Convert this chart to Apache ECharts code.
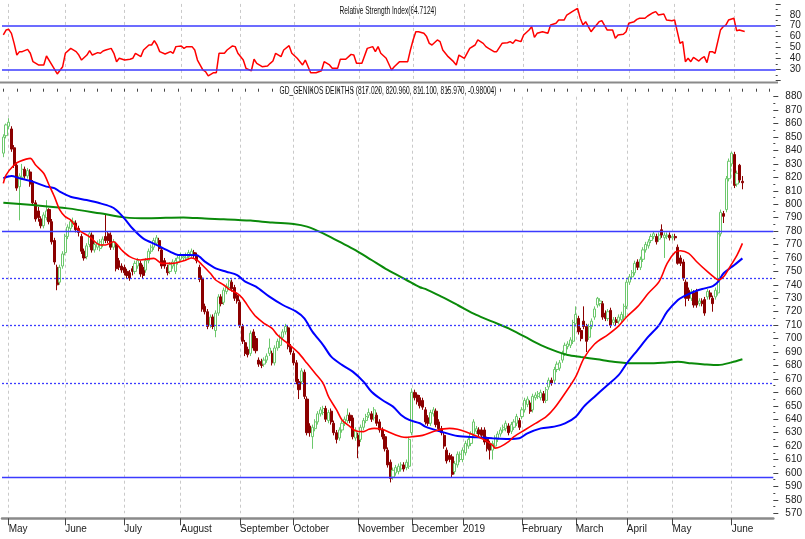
<!DOCTYPE html>
<html><head><meta charset="utf-8">
<script src="https://cdn.jsdelivr.net/npm/echarts@6/dist/echarts.min.js"></script>
<style>html,body{margin:0;padding:0;background:#fff}#c{width:805px;height:539px}</style>
</head><body><div id="c"></div>
<script>
const monthNames = ['May','June','July','August','September','October','November','December','2019','February','March','April','May','June'];
const monthStarts = [2,23,45,66,88,108,132,152,171,193,213,232,249,271];
const emptySlots = 11;
const lastBar = [817.020, 820.960, 811.100, 815.970, -0.98004];
const rsiLast = 64.7124;
const priceLevelsSolid = [780, 597];
const priceLevelsDotted = [745, 710, 667];
const rsiLevels = [70, 30];
// [open, close, low, high]
const ohlc = [
[838,850,835,852],[851,859,849,860],[858,861,856,864],[856,841,839,858],[842,829,827,844],
[829,812,810,831],[813,821,788,823],[820,826,818,830],[826,821,819,828],[821,825,819,827],
[824,815,813,826],[816,801,799,818],[801,789,787,803],[795,790,787,798],[789,784,782,791],
[784,792,782,794],[790,795,788,803],[796,787,785,797],[787,772,770,789],[773,757,755,775],
[753,740,736,755],[742,753,740,755],[754,763,752,765],[764,776,762,778],[776,783,774,785],
[782,787,780,789],[785,787,783,790],[786,781,779,788],[782,779,776,784],[776,765,763,778],
[765,760,758,767],[761,769,759,771],[770,778,768,780],[777,766,764,779],[766,770,764,772],
[768,771,766,773],[767,772,765,774],[770,774,768,776],[776,773,771,792],[778,773,771,780],
[777,768,766,779],[768,772,766,774],[770,752,750,772],[758,753,751,760],[754,751,749,756],
[753,749,747,755],[750,747,745,752],[749,745,743,751],[752,750,747,754],[750,756,748,758],
[754,758,752,760],[756,748,746,758],[753,747,745,755],[751,758,749,760],[758,765,756,767],
[765,768,763,770],[768,773,766,775],[771,775,769,777],[773,767,765,775],[766,754,752,768],
[758,754,752,760],[753,749,747,755],[750,755,748,757],[754,757,752,759],[750,758,748,760],
[757,760,755,762],[759,762,757,764],[760,761,758,763],[760,762,758,764],[761,764,759,766],
[762,765,760,767],[764,762,760,766],[762,758,756,764],[753,744,742,755],[745,722,720,747],
[724,720,718,726],[720,709,707,722],[710,716,708,718],[716,709,707,718],[706,719,701,721],
[719,731,717,733],[731,726,724,733],[727,736,725,738],[735,739,733,741],[738,743,736,745],
[742,737,735,744],[738,730,728,740],[732,728,726,734],[727,710,708,729],[709,698,696,711],
[697,689,687,699],[692,688,686,694],[689,704,687,706],[705,693,691,707],[700,691,689,702],
[684,681,679,686],[683,680,678,685],[681,684,679,686],[684,687,682,689],[689,693,687,700],
[689,682,680,691],[682,693,680,695],[693,698,691,700],[695,701,693,703],[701,705,699,707],
[705,709,703,711],[708,694,692,710],[694,690,688,696],[689,682,680,691],[682,668,666,684],
[668,662,655,670],[668,676,666,678],[675,657,655,677],[655,630,628,657],[635,630,627,637],
[627,634,618,636],[633,638,631,640],[638,644,636,646],[644,647,642,649],[645,648,643,650],
[648,640,638,650],[639,645,637,647],[646,638,636,648],[637,630,628,639],[630,625,622,632],
[626,632,624,634],[632,637,630,639],[637,640,635,642],[639,643,637,648],[643,639,637,645],
[641,627,625,643],[626,632,624,634],[628,620,611,630],[625,634,623,636],[634,639,632,641],
[639,642,637,644],[643,645,641,648],[644,640,638,646],[641,647,639,649],[643,637,635,645],
[638,632,630,640],[632,627,625,634],[627,618,616,629],[617,606,604,619],[608,596,593,610],
[597,602,595,604],[600,604,598,606],[601,605,599,607],[603,606,601,608],[606,603,601,608],
[604,608,602,610],[605,625,603,627],[630,660,628,663],[660,656,654,662],[658,653,651,660],
[656,650,648,658],[654,649,647,656],[647,638,636,649],[641,637,635,643],[637,645,635,647],
[644,647,642,649],[646,636,634,648],[638,633,631,640],[633,630,628,635],[628,620,618,630],
[617,609,607,619],[613,610,608,615],[612,599,597,614],[601,607,599,609],[606,614,604,616],
[610,614,608,616],[610,617,608,619],[615,622,613,624],[620,625,618,627],[622,629,620,631],
[629,638,627,640],[631,633,629,635],[632,629,627,634],[632,628,626,634],[632,623,621,634],
[625,618,616,627],[622,617,610,624],[617,622,610,624],[620,626,618,628],[625,629,623,631],
[629,632,627,634],[632,634,630,636],[633,637,631,639],[635,630,628,637],[631,636,629,638],
[634,638,632,640],[637,642,635,644],[639,634,632,641],[642,647,640,649],[647,654,645,656],
[651,655,649,657],[652,646,644,654],[647,657,645,659],[656,658,654,660],[657,659,655,661],
[656,660,654,662],[659,654,652,661],[654,662,652,664],[664,669,662,671],[669,667,665,671],
[669,677,667,679],[677,681,675,683],[678,682,676,684],[684,689,682,691],[689,695,687,697],
[694,696,692,698],[695,699,693,701],[698,712,696,714],[711,718,709,724],[715,705,703,717],
[706,700,698,708],[713,709,707,724],[709,698,690,711],[701,709,699,711],[709,713,707,715],
[716,722,714,724],[725,730,723,731],[726,728,724,730],[726,716,714,728],[719,715,713,721],
[715,720,713,722],[721,710,708,723],[712,714,710,716],[714,712,710,716],[713,716,711,718],
[714,718,712,720],[716,724,714,726],[724,742,722,744],[742,746,740,748],[746,749,744,751],
[749,756,747,758],[757,753,751,759],[753,759,751,761],[759,766,757,768],[766,770,764,772],
[769,772,767,774],[773,776,771,778],[776,778,774,780],[776,772,770,778],[774,777,772,779],
[781,777,775,785],[775,777,760,779],[776,777,774,779],[777,775,773,779],[775,776,773,778],
[776,775,773,778],[768,756,755,770],[760,756,754,762],[757,745,743,759],[742,730,724,744],
[736,730,728,738],[730,735,728,737],[734,725,723,736],[735,725,723,737],[726,728,724,730],
[728,726,724,730],[729,719,717,731],[731,735,729,737],[734,731,729,736],[730,726,720,732],
[731,736,729,738],[734,778,732,780],[778,794,776,796],[793,791,786,795],[796,819,794,821],
[819,832,817,834],[830,838,828,839],[837,814,812,839],[815,823,813,825],[829,818,816,830],
[817.02,815.97,811.1,820.96]
];
const rsi = [[0,61.5],[1,66],[2,66.7],[3,63],[4,53.8],[5,43.1],[6,46.2],[7,46.2],[9,48.3],[10,44.7],[11,37],[13,34],[15,34],[16,42.2],[18,34],[20,25.7],[22,32.4],[23,44.7],[25,49.2],[27,46.2],[28,43.1],[29,38.5],[31,43.1],[32,47.1],[33,43.1],[35,45.3],[36,44.7],[37,46.8],[38,47.7],[40,49.2],[41,44.7],[42,37],[43,40.1],[45,38.5],[47,39.2],[48,40.1],[49,44.7],[51,41.6],[52,47.7],[54,52.3],[55,52.3],[56,56.3],[57,52.3],[58,46.2],[60,44],[62,46.2],[63,44.7],[64,50.8],[66,51.4],[67,49.2],[68,50.8],[70,50.8],[71,47.7],[72,38.5],[74,29.4],[75,27.8],[76,23.9],[78,26.9],[79,26.9],[80,44.7],[82,44.7],[83,47.7],[85,51.4],[86,50.8],[87,44.7],[89,38.5],[90,30.9],[92,28.7],[93,39.2],[94,35.5],[96,32.4],[98,33],[99,35.5],[100,37.6],[101,44.7],[103,41.6],[104,47.7],[106,51.7],[107,44.7],[109,40.1],[111,34],[112,38.5],[114,26.9],[116,26.9],[118,28.7],[119,37],[121,34],[122,30.9],[124,30.9],[125,39.2],[127,39.2],[129,43.7],[130,43.1],[131,35.5],[133,35.5],[135,49.2],[137,50.8],[138,46.2],[139,50.8],[140,44.7],[142,40.1],[144,29.4],[145,32.4],[147,37],[150,37],[151,47.7],[152,56.9],[153,64.5],[154,64.5],[156,63],[157,60],[158,53.8],[159,52.3],[161,56.9],[162,55.4],[163,47.7],[165,41.6],[167,37],[168,34],[169,43.1],[171,40.1],[172,44.7],[173,49.2],[175,52.3],[176,56.9],[178,53.8],[179,50.8],[180,49.2],[182,46.2],[183,46.2],[185,53.8],[187,54.4],[188,55.4],[189,53.8],[190,56.9],[192,55.4],[193,61.5],[195,66],[196,69.1],[197,59.3],[198,63],[200,64.5],[202,63],[203,70.6],[205,72.2],[206,75.2],[208,75.2],[209,79.8],[211,82.9],[213,85.9],[214,76.8],[215,70.6],[216,73.7],[218,64.5],[219,67.6],[221,73.7],[222,74.6],[224,66],[226,66],[227,58.4],[228,61.5],[230,62.1],[231,64.5],[232,72.2],[234,73.7],[235,75.8],[236,76.8],[238,76.8],[239,78.9],[241,81.9],[242,82.9],[243,79.8],[245,80.7],[246,75.2],[248,74.6],[249,75.2],[250,64.5],[251,53.8],[252,55.4],[253,37],[254,40.1],[255,37],[256,41],[258,37.6],[259,40.1],[260,41.6],[261,36.1],[262,46.2],[263,46.2],[264,44.7],[266,66],[267,69.1],[268,70.6],[269,75.2],[271,76.8],[272,65.4],[273,66],[275,64.7124]];
const maRed = [[0,815.5],[1,821.7],[4,829.2],[6,831.7],[10,834.1],[12,829.2],[15,823],[17,814.3],[19,805.6],[21,795.7],[23,790.7],[25,788.3],[28,780.8],[32,775.9],[36,769.7],[38,769.7],[41,772.1],[44,765.9],[47,761],[51,758.5],[56,759.7],[59,756],[63,756],[68,758.5],[70,760],[72,758.5],[74,754.8],[77,748.6],[79,743.6],[82,739.9],[84,736.7],[87,733.7],[89,730],[92,721.3],[94,716.3],[97,711.4],[100,707.6],[102,702.7],[105,697.7],[108,692.8],[110,689],[113,681.6],[116,674.2],[119,666.7],[121,656.8],[124,646.9],[126,639.5],[129,634.5],[131,631.5],[134,630.8],[136,632.5],[138,633.2],[141,632.5],[143,630.8],[146,628.3],[148,627],[150,626.5],[152,627],[156,628],[161,631.5],[166,633.2],[169,632.5],[172,630.7],[176,627.5],[179,624.6],[182,620.8],[183,618.5],[185,619.6],[188,623.3],[190,627],[194,632],[198,636.9],[202,641.9],[205,648.1],[209,659.3],[213,671.7],[216,685.3],[220,696],[225,703],[229,709.5],[232,716.3],[236,723.8],[240,733.7],[244,742.4],[247,756],[250,764.3],[252,765.4],[255,763.4],[258,757.2],[262,749.8],[265,744.8],[266,743.6],[268,746],[270,752.3],[273,762.2],[275,770.9]];
const maBlue = [[0,819.3],[3,821],[6,819.3],[11,816.8],[16,813.1],[19,812],[21,809.3],[25,805.6],[31,803.1],[36,800.7],[40,798.2],[42,795.7],[45,789.5],[48,782.1],[52,774.6],[57,769.7],[62,764.7],[65,762.2],[69,762.2],[72,762],[75,757.3],[79,752.3],[83,749.8],[87,747.3],[90,742.4],[94,738.7],[99,731.2],[104,725],[109,720.1],[112,715.1],[115,705.2],[119,695.2],[122,686.6],[126,680.4],[130,675.4],[134,668],[137,660.5],[141,654.3],[145,649.4],[148,643.2],[151,639.5],[155,637],[157,634.5],[163,630.7],[169,627.5],[176,626.5],[182,625.8],[188,625.3],[192,625.8],[195,629.5],[200,633.2],[205,634.5],[209,636.9],[213,641.9],[216,649.4],[220,656.8],[224,664],[229,673],[232,681.6],[236,691.5],[240,701.4],[244,710.1],[247,720],[251,728.7],[253,731.2],[257,734.9],[261,737.4],[264,739.1],[266,742.4],[268,748.6],[272,754.8],[275,759.7]];
const maGreen = [[0,801.1],[11,799.4],[24,796.9],[36,793.2],[45,790.2],[54,789.5],[67,790.2],[75,789.3],[82,788.8],[92,787.8],[100,786.3],[108,785.3],[113,783.3],[119,778.3],[125,772.1],[131,765.9],[137,758.5],[143,751.1],[150,743.6],[155,738.2],[157,737],[163,731.2],[169,725],[176,717.6],[182,712.6],[188,707.6],[194,701.4],[200,695.2],[206,690.3],[210,687.8],[215,686.3],[221,684.6],[227,682.8],[234,681.6],[240,681.6],[246,682.1],[251,682.8],[256,681.6],[261,680.8],[266,680.3],[271,682.3],[275,684.6]];

const nSlots = ohlc.length + emptySlots;
const categories = Array.from({length: nSlots}, (_, i) => String(i));
const startSet = new Set(monthStarts);
const labelOf = i => { const k = monthStarts.indexOf(i); return k >= 0 ? monthNames[k] : ''; };
const isStart = i => startSet.has(i);

const FONT = '"Liberation Sans Narrow", "Liberation Sans", Arial, sans-serif';
function fitScale(text, size, target) {
  const ctx = document.createElement('canvas').getContext('2d');
  ctx.font = size + 'px ' + FONT;
  return target / ctx.measureText(text).width;
}
const rsiTitle = 'Relative Strength Index(' + rsiLast.toFixed(4) + ')';
const mainTitle = 'GD_GENIKOS DEIKTHS (' + lastBar.slice(0,4).map(v => v.toFixed(3)).join(', ') + ', ' + lastBar[4] + ')';

const GL = 2, GR = 29.3;
const chart = echarts.init(document.getElementById('c'), null, {renderer: 'canvas'});
const blue = '#3b3bff';
const monthSplit = {show: true, interval: (i) => isStart(i), alignWithLabel: true, lineStyle: {color: '#c9c9c9', type: [3, 3], width: 1}};
const levelLine = (levels, dash) => ({type: 'line', xAxisIndex: 1, yAxisIndex: 1, data: [], z: 1, color: blue,
  itemStyle: {color: blue}, lineStyle: {color: blue},
  markLine: {silent: true, symbol: ['none', 'none'], label: {show: false}, animation: false,
    itemStyle: {color: blue},
    lineStyle: {color: blue, width: 1.3, type: dash, opacity: 1},
    data: levels.map(v => ({yAxis: v, lineStyle: {color: blue, width: 1.3, type: dash}}))}});

chart.setOption({
  animation: false,
  backgroundColor: '#ffffff',
  grid: [
    {left: GL, right: GR, top: 3.9, height: 76.3},
    {left: GL, right: GR, top: 96.7, height: 416.6}
  ],
  xAxis: [
    {type: 'category', gridIndex: 0, data: categories, boundaryGap: true,
     axisLine: {show: false}, axisTick: {show: false}, axisLabel: {show: false}, splitLine: monthSplit},
    {type: 'category', gridIndex: 1, data: categories, boundaryGap: true, offset: 5,
     axisLine: {show: true, lineStyle: {color: '#8a8a8a', width: 2.5}},
     axisTick: {show: true, alignWithLabel: true, interval: (i) => isStart(i), length: 7, lineStyle: {color: '#444'}},
     axisLabel: {show: true, interval: (i) => isStart(i), formatter: (v, i) => labelOf(i), align: 'left', margin: 6,
       fontSize: 10, color: '#222', fontFamily: FONT},
     splitLine: monthSplit},
    {type: 'category', gridIndex: 1, data: categories, boundaryGap: true, offset: 5,
     axisLine: {show: false}, axisLabel: {show: false}, splitLine: {show: false},
     axisTick: {show: true, alignWithLabel: true, interval: (i) => i % 5 === 0, length: 3, lineStyle: {color: '#444'}}}
  ],
  yAxis: [
    {type: 'value', gridIndex: 0, position: 'right', min: 20, max: 90, interval: 10, scale: true,
     axisLine: {show: false}, splitLine: {show: false},
     axisTick: {show: true, length: 5, lineStyle: {color: '#444'}},
     minorTick: {show: true, splitNumber: 2, length: 2, lineStyle: {color: '#444'}},
     axisLabel: {margin: 14, fontSize: 10, color: '#222', fontFamily: FONT,
       formatter: v => (v >= 30 && v <= 80 ? String(v) : '')}},
    {type: 'value', gridIndex: 1, position: 'right', min: 570, max: 880, interval: 10, scale: true,
     axisLine: {show: false}, splitLine: {show: false},
     axisTick: {show: true, length: 5, lineStyle: {color: '#444'}},
     minorTick: {show: true, splitNumber: 2, length: 2, lineStyle: {color: '#444'}},
     axisLabel: {margin: 12, fontSize: 10, color: '#222', fontFamily: FONT}}
  ],
  graphic: [
    {type: 'line', shape: {x1: 0, y1: 82.5, x2: 778, y2: 82.5}, style: {stroke: '#8a8a8a', lineWidth: 2}, silent: true},
    {type: 'text', x: 388, y: 10.5, scaleX: fitScale(rsiTitle, 11, 97), silent: true,
     style: {text: rsiTitle, font: '11px ' + FONT, fill: '#111', align: 'center', verticalAlign: 'middle', textAlign: 'center', textVerticalAlign: 'middle'}},
    {type: 'text', x: 388, y: 91, scaleX: fitScale(mainTitle, 11, 217), silent: true,
     style: {text: mainTitle, font: '11px ' + FONT, fill: '#111', align: 'center', verticalAlign: 'middle', textAlign: 'center', textVerticalAlign: 'middle'}}
  ],
  series: [
    {type: 'line', name: 'RSI', xAxisIndex: 0, yAxisIndex: 0, data: rsi, showSymbol: false, symbol: 'none',
     lineStyle: {color: '#ff0000', width: 1.5}, z: 3,
     markLine: {silent: true, symbol: ['none', 'none'], label: {show: false},
       lineStyle: {color: blue, width: 1.5, type: 'solid'}, data: rsiLevels.map(v => ({yAxis: v}))}},
    levelLine(priceLevelsSolid, 'solid'),
    levelLine(priceLevelsDotted, [2, 2]),
    {type: 'candlestick', name: 'price', xAxisIndex: 1, yAxisIndex: 1, data: ohlc, barWidth: 2.6, z: 2,
     itemStyle: {color: '#ffffff', color0: '#8b0000', borderColor: '#6cc86c', borderColor0: '#8b0000', borderWidth: 1}},
    {type: 'line', name: 'MA200', xAxisIndex: 1, yAxisIndex: 1, data: maGreen, smooth: 0.3, showSymbol: false, symbol: 'none',
     lineStyle: {color: '#0a8a0a', width: 2}, z: 4},
    {type: 'line', name: 'MA50', xAxisIndex: 1, yAxisIndex: 1, data: maBlue, smooth: 0.3, showSymbol: false, symbol: 'none',
     lineStyle: {color: '#0000ff', width: 2}, z: 4},
    {type: 'line', name: 'MA20', xAxisIndex: 1, yAxisIndex: 1, data: maRed, smooth: 0.3, showSymbol: false, symbol: 'none',
     lineStyle: {color: '#ff0000', width: 1.6}, z: 5}
  ]
});
</script>
</body></html>
